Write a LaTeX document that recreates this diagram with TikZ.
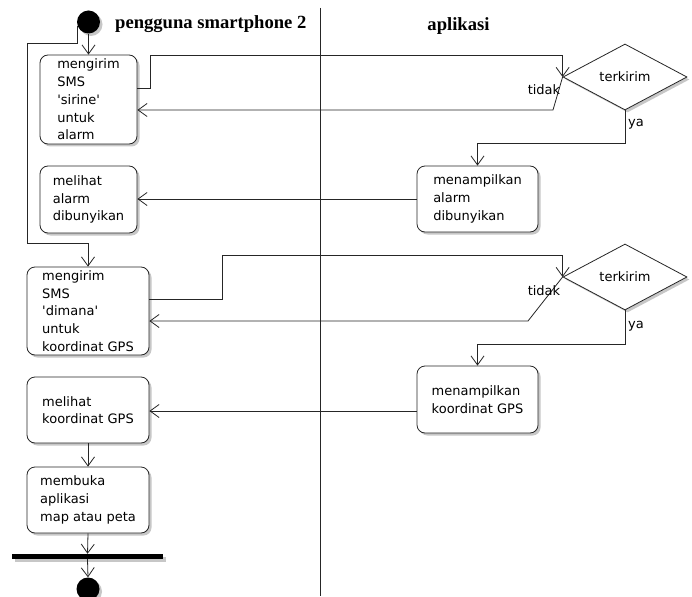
\documentclass[tikz,border=0pt]{standalone}
\usepackage{fontspec}
\setmainfont{DejaVu Sans}
\newfontfamily\titlefont{Liberation Serif}
\usetikzlibrary{arrows.meta,shapes.geometric,shadows}
\tikzset{
  ln/.style={draw=black!85, line width=0.8pt},
  arr/.style={ln, -{Straight Barb[length=9pt,width=13pt,line width=0.8pt]}},
  shd/.style={general shadow={shadow xshift=2.5pt, shadow yshift=-2.5pt, fill=black!22}},
  act/.style={draw=black!85, line width=0.8pt, rounded corners=8pt, fill=white, align=left,
    font=\fontsize{13}{17.7}\selectfont, inner sep=0pt, shd},
  dec/.style={diamond, draw=black!85, line width=0.8pt, fill=white, minimum width=124pt,
    minimum height=66pt, inner sep=0pt, font=\fontsize{13}{15}\selectfont, shd},
  lbl/.style={font=\fontsize{13}{15}\selectfont, inner sep=0pt},
  ttl/.style={font=\titlefont\bfseries\fontsize{18.6}{20}\selectfont, inner sep=0pt},
  dot/.style={circle, fill=black, minimum size=23pt, inner sep=0pt, shd},
}
\begin{document}
\begin{tikzpicture}[x=1pt,y=-1pt]
\useasboundingbox (0,0) rectangle (692,596);
\clip (0,0) rectangle (692,596);
\fill[white] (0,0) rectangle (692,596);

% titles and lane divider
\node[ttl, anchor=base west] (t1) at (115,29) {pengguna smartphone 2};
\node[ttl, anchor=base] (t2) at (458.5,31) {aplikasi};
\draw[ln] (320,8) -- (320,596);

% nodes
\node[dot] (start) at (88.5,22) {};
\node[act, minimum width=97pt, minimum height=89pt] (b1) at (88.5,99.5) {mengirim\\SMS\\\textquotesingle sirine\textquotesingle\\untuk\\alarm};
\node[act, minimum width=97pt, minimum height=67pt] (b2) at (88.5,199.5) {melihat\\alarm\\dibunyikan};
\node[act, minimum width=121pt, minimum height=66pt] (b3) at (477.5,199) {menampilkan\\alarm\\dibunyikan};
\node[act, minimum width=122pt, minimum height=88pt] (b4) at (88,311) {mengirim\\SMS\\\textquotesingle dimana\textquotesingle\\untuk\\koordinat GPS};
\node[act, minimum width=121pt, minimum height=67pt] (b5) at (477.5,399.5) {menampilkan\\koordinat GPS};
\node[act, minimum width=122pt, minimum height=66pt] (b6) at (88,410) {melihat\\koordinat GPS};
\node[act, minimum width=122pt, minimum height=66pt] (b7) at (88,500) {membuka\\aplikasi\\map atau peta};
\node[dec] (d1) at (625,77) {terkirim};
\node[dec] (d2) at (625,277) {terkirim};
\node[rectangle, fill=black, minimum width=151pt, minimum height=5pt, inner sep=0pt, shd] (bar) at (87.5,556.5) {};
\node[dot] (end) at (88,589) {};

% connectors
\draw[arr] (start) -- (b1.north);
\draw[arr] (start.200) -- (start.200 |- 0,43) -- (27,43) -- (27,243) -- (b4.north |- 0,243) -- (b4.north);
\draw[arr] (b1.east |- 0,88) -- (150,88) -- (150,55) -- (d1.west |- 0,55) -- (d1.west);
\draw[arr] (d1.west) -- (553,110) -- (b1.east |- 0,110);
\draw[arr] (d1.south) -- (625,143) -- (b3.north |- 0,143) -- (b3.north);
\draw[arr] (b3.west) -- (b2.east |- b3.west);
\draw[arr] (b4.east |- 0,299) -- (222,299) -- (222,255) -- (d2.west |- 0,255) -- (d2.west);
\draw[arr] (d2.west) -- (528,321) -- (b4.east |- 0,321);
\draw[arr] (d2.south) -- (625,344) -- (b5.north |- 0,344) -- (b5.north);
\draw[arr] (b5.west |- 0,411) -- (b6.east |- 0,411);
\draw[arr] (b6.south) -- (b7.north);
\draw[arr] (b7.south) -- (bar.north);
\draw[arr] (bar.south) -- (end.north);

% guard labels
\node[lbl, anchor=base] (g1) at (544,95) {tidak};
\node[lbl, anchor=base west] (g2) at (628,127) {ya};
\node[lbl, anchor=base] (g3) at (544,295) {tidak};
\node[lbl, anchor=base west] (g4) at (628,328) {ya};
\end{tikzpicture}
\end{document}
